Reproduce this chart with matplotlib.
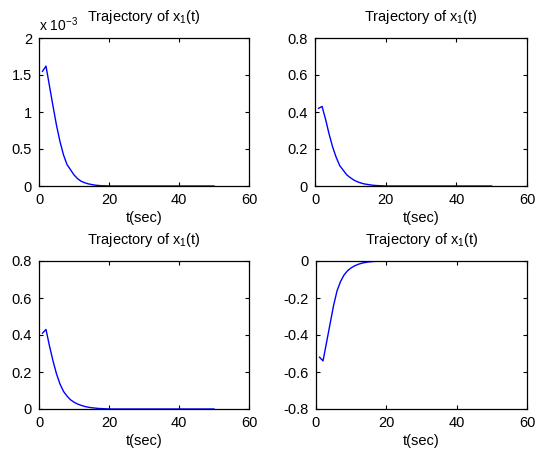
import matplotlib
matplotlib.use("Agg")
import matplotlib.pyplot as plt
from matplotlib.ticker import FuncFormatter

plt.rcParams['font.family'] = ['Liberation Sans', 'DejaVu Sans']
plt.rcParams['mathtext.fontset'] = 'custom'
plt.rcParams['mathtext.rm'] = 'Liberation Sans'
plt.rcParams['mathtext.it'] = 'Liberation Sans'

t = list(range(1, 51))

tail = [0.0] * 30
x_a = [1.55e-3, 1.62e-3, 1.35e-3, 1.08e-3, 0.82e-3, 0.60e-3, 0.42e-3, 0.29e-3,
       0.22e-3, 0.15e-3, 0.10e-3, 0.065e-3, 0.045e-3, 0.03e-3, 0.02e-3, 0.012e-3,
       0.007e-3, 0.004e-3, 0.002e-3, 0.001e-3] + tail
x_b = [0.42, 0.43, 0.36, 0.28, 0.21, 0.155, 0.11, 0.085, 0.06, 0.045, 0.032,
       0.023, 0.016, 0.011, 0.008, 0.005, 0.003, 0.002, 0.001, 0.0] + tail
x_c = [0.41, 0.43, 0.34, 0.26, 0.19, 0.135, 0.095, 0.07, 0.05, 0.037, 0.027,
       0.02, 0.014, 0.01, 0.007, 0.005, 0.003, 0.002, 0.001, 0.0] + tail
x_d = [-0.52, -0.54, -0.44, -0.34, -0.24, -0.16, -0.11, -0.075, -0.052, -0.037,
       -0.026, -0.018, -0.012, -0.008, -0.005, -0.003, -0.002, -0.001, 0.0, 0.0] + tail

series = [x_a, x_b, x_c, x_d]
ylims = [(0, 2e-3), (0, 0.8), (0, 0.8), (-0.8, 0)]
yticks = [[0, 0.5e-3, 1e-3, 1.5e-3, 2e-3],
          [0, 0.2, 0.4, 0.6, 0.8],
          [0, 0.2, 0.4, 0.6, 0.8],
          [-0.8, -0.6, -0.4, -0.2, 0]]
xticks = [0, 20, 40, 60]

W, H = 542, 450
fig = plt.figure(figsize=(W / 100, H / 100), dpi=100)
# axes boxes in pixels: left, top, right, bottom
boxes = [(39, 38, 249, 186), (315, 38, 527, 186),
         (39, 261, 249, 409), (316, 261, 527, 409)]

for i, (l, tp, r, b) in enumerate(boxes):
    ax = fig.add_axes([l / W, 1 - b / H, (r - l) / W, (b - tp) / H])
    ax.plot(t, series[i], color='#0000ff', lw=1.0)
    ax.set_xlim(0, 60)
    ax.set_ylim(*ylims[i])
    ax.set_xticks(xticks)
    ax.set_yticks(yticks[i])
    if i == 0:
        ax.yaxis.set_major_formatter(FuncFormatter(lambda v, p: '%g' % round(v * 1e3, 3)))
        ax.text(0.0, 1.03, r'x 10$^{\mathrm{-3}}$', transform=ax.transAxes,
                fontsize=10, ha='left', va='bottom')
    else:
        ax.yaxis.set_major_formatter(FuncFormatter(lambda v, p: '%g' % round(v, 3)))
    ax.tick_params(direction='in', length=3, width=0.8, labelsize=10.5,
                   top=True, right=True, pad=5)
    for s in ax.spines.values():
        s.set_linewidth(0.9)
    ax.set_title(r'Trajectory of x$_{\mathrm{1}}$(t)', fontsize=10.5, pad=12)
    ax.set_xlabel('t(sec)', fontsize=10.5, labelpad=3)

fig.savefig('out.png', dpi=100)
